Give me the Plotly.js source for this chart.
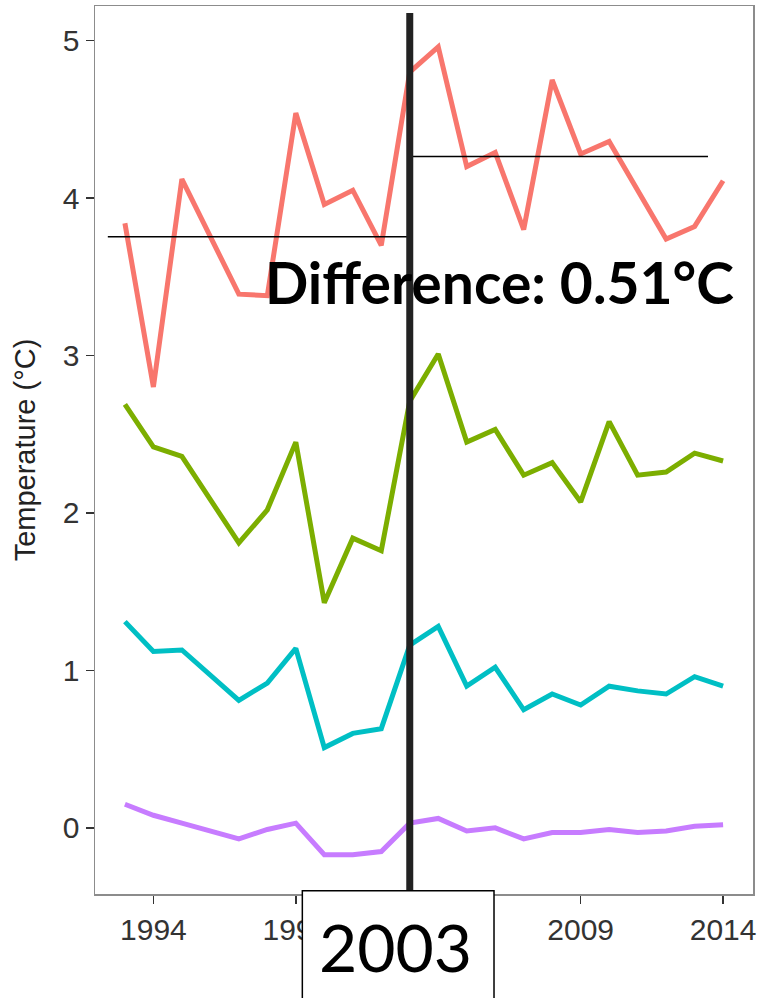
<!DOCTYPE html>
<html>
<head>
<meta charset="utf-8">
<script src="https://cdn.plot.ly/plotly-3.0.1.min.js"></script>
<style>
  html, body { margin: 0; padding: 0; background: #ffffff; }
  #chart { width: 759px; height: 998px; }
</style>
</head>
<body>
<div id="chart"></div>
<script>
// Annual temperatures, 1993-2014, four series
const years = [1993, 1994, 1995, 1996, 1997, 1998, 1999, 2000, 2001, 2002, 2003,
               2004, 2005, 2006, 2007, 2008, 2009, 2010, 2011, 2012, 2013, 2014];

const seriesRed    = [3.84, 2.80, 4.12, 3.76, 3.39, 3.38, 4.54, 3.96, 4.05, 3.70, 4.80,
                      4.96, 4.20, 4.29, 3.80, 4.75, 4.28, 4.36, 4.05, 3.74, 3.82, 4.11];
const seriesGreen  = [2.69, 2.42, 2.36, 2.09, 1.81, 2.02, 2.45, 1.43, 1.84, 1.76, 2.71,
                      3.01, 2.45, 2.53, 2.24, 2.32, 2.07, 2.58, 2.24, 2.26, 2.38, 2.33];
const seriesCyan   = [1.31, 1.12, 1.13, 0.97, 0.81, 0.92, 1.14, 0.51, 0.60, 0.63, 1.16,
                      1.28, 0.90, 1.02, 0.75, 0.85, 0.78, 0.90, 0.87, 0.85, 0.96, 0.90];
const seriesPurple = [0.15, 0.08, 0.03, -0.02, -0.07, -0.01, 0.03, -0.17, -0.17, -0.15, 0.03,
                      0.06, -0.02, 0.00, -0.07, -0.03, -0.03, -0.01, -0.03, -0.02, 0.01, 0.02];

const xTicks = [1994, 1999, 2004, 2009, 2014];
const xTickText = ['1994', '1999', '', '2009', '2014'];   // 2004 sits under the year box
const yTicks = [0, 1, 2, 3, 4, 5];

const breakYear = 2003;
const yAxisTitle = 'Temperature (°C)';

// Period means of the top series, before and from the break year
const mean = a => a.reduce((s, v) => s + v, 0) / a.length;
const before = seriesRed.filter((v, i) => years[i] < breakYear);
const after  = seriesRed.filter((v, i) => years[i] >= breakYear);
const meanBefore = mean(before);
const meanAfter  = mean(after);
const diffLabel = 'Difference: ' + (meanAfter - meanBefore).toFixed(2) + '°C';

const colors = ['#F8766D', '#7CAE00', '#00BFC4', '#C77CFF'];
const allSeries = [seriesRed, seriesGreen, seriesCyan, seriesPurple];

const traces = allSeries.map((vals, k) => ({
  type: 'scatter',
  mode: 'lines',
  x: years,
  y: vals,
  line: { color: colors[k], width: 5 },
  hoverinfo: 'skip'
}));

const axisStyle = {
  showline: true,
  mirror: true,
  linecolor: '#8c8c8c',
  linewidth: 1.5,
  showgrid: false,
  zeroline: false,
  ticks: 'outside',
  ticklen: 8,
  tickwidth: 1.5,
  tickcolor: '#333333',
  tickfont: { family: 'Liberation Sans, Arial, sans-serif', size: 30, color: '#333333' },
  automargin: false,
  fixedrange: true
};

const layout = {
  width: 759,
  height: 998,
  margin: { l: 95, r: 6, t: 6, b: 104 },
  paper_bgcolor: '#ffffff',
  plot_bgcolor: '#ffffff',
  showlegend: false,
  xaxis: Object.assign({}, axisStyle, {
    range: [1991.95, 2015.05],
    tickmode: 'array',
    tickvals: xTicks,
    ticktext: xTickText
  }),
  yaxis: Object.assign({}, axisStyle, {
    range: [-0.42, 5.22],
    tickmode: 'array',
    tickvals: yTicks,
    ticktext: yTicks.map(String),
    title: {
      text: yAxisTitle,
      font: { family: 'Liberation Sans, Arial, sans-serif', size: 29, color: '#222222' },
      standoff: 18
    }
  }),
  shapes: [
    // period means
    { type: 'line', xref: 'x', yref: 'y', x0: 1992.4, x1: breakYear, y0: meanBefore, y1: meanBefore,
      line: { color: '#000000', width: 1.5 }, layer: 'above' },
    { type: 'line', xref: 'x', yref: 'y', x0: breakYear, x1: 2013.47, y0: meanAfter, y1: meanAfter,
      line: { color: '#000000', width: 1.5 }, layer: 'above' },
    // break year marker
    { type: 'line', xref: 'x', yref: 'paper', x0: breakYear, x1: breakYear, y0: -0.01, y1: 0.992,
      line: { color: '#222222', width: 7 }, layer: 'above' },
    // label box below the axis
    { type: 'rect', xref: 'paper', yref: 'paper', x0: 0.3151, x1: 0.6064, y0: -0.2, y1: 0.0037,
      fillcolor: '#ffffff', line: { color: '#000000', width: 1.5 }, layer: 'above' }
  ],
  annotations: [
    { xref: 'paper', yref: 'paper', x: 0.4574, y: -0.0586, xanchor: 'center', yanchor: 'middle',
      text: String(breakYear), showarrow: false,
      font: { family: 'Lato, Carlito, sans-serif', size: 66, color: '#000000' } },
    { xref: 'paper', yref: 'paper', x: 0.2560, y: 0.689, xanchor: 'left', yanchor: 'middle',
      text: diffLabel, showarrow: false,
      font: { family: 'Lato, Carlito, sans-serif', size: 57, color: '#000000', weight: 'bold' } }
  ]
};

Plotly.newPlot('chart', traces, layout, { staticPlot: true, displayModeBar: false });
</script>
</body>
</html>
